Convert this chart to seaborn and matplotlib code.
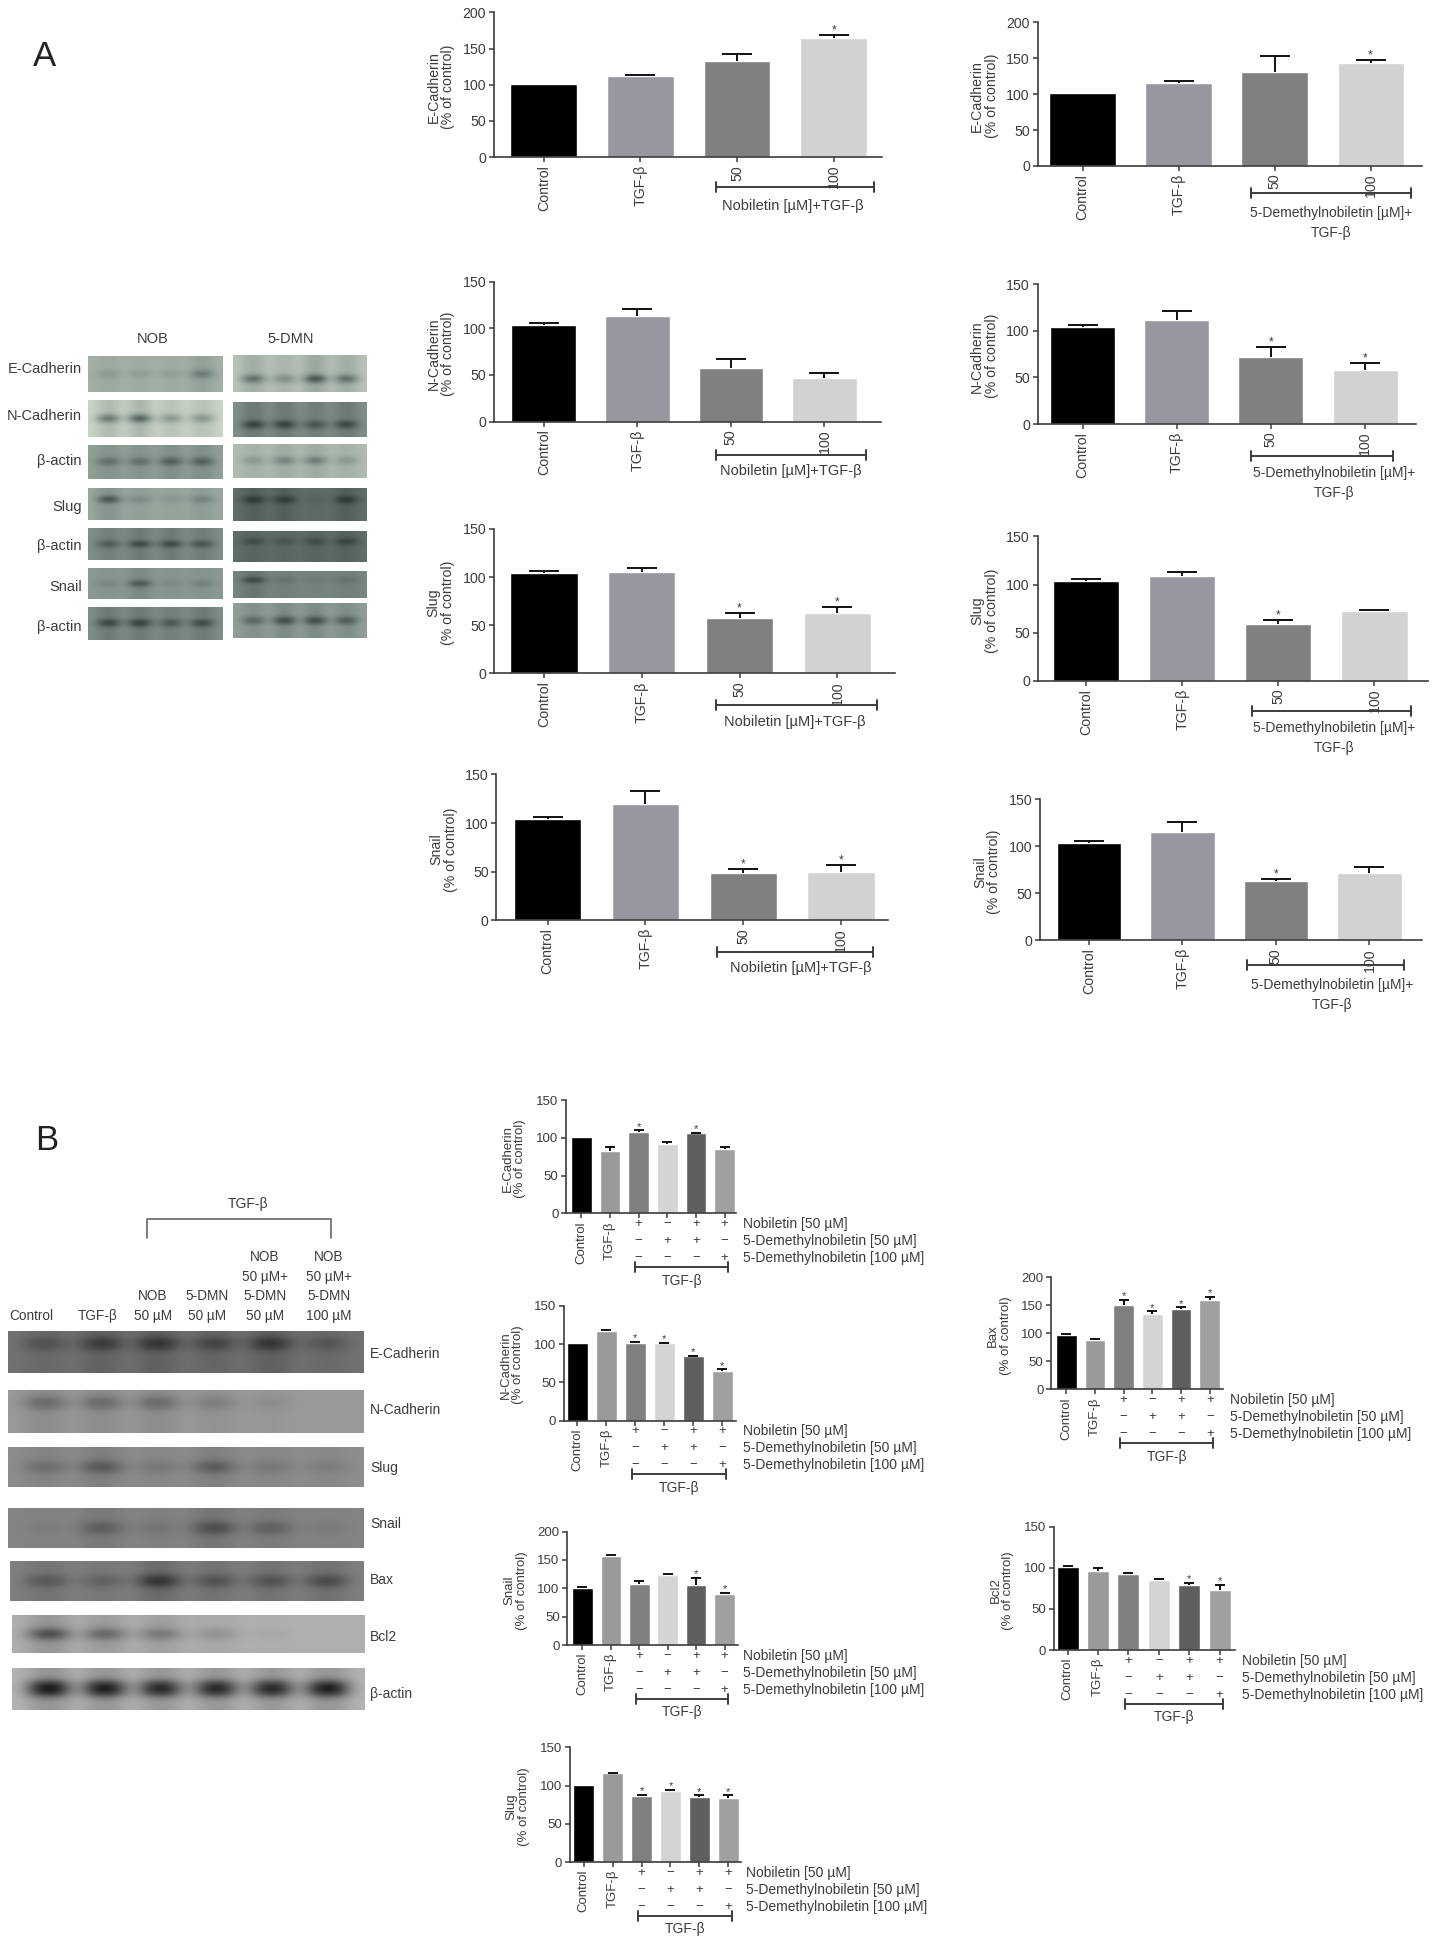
import numpy as np
import pandas as pd
import matplotlib
matplotlib.use("Agg")
import matplotlib.pyplot as plt
from matplotlib.colors import LinearSegmentedColormap
import seaborn as sns

# panel A values
a_labels = ["Control", "TGF-β", "50", "100"]
a_ecad_nob = [101, 112, 133, 165]
a_ecad_nob_err = [0, 1, 9, 4]
a_ecad_dmn = [101, 116, 131, 144]
a_ecad_dmn_err = [0, 3, 22, 4]
a_ncad_nob = [104, 113, 58, 47]
a_ncad_nob_err = [2, 8, 9, 5]
a_ncad_dmn = [104, 112, 72, 58]
a_ncad_dmn_err = [2, 9, 11, 8]
a_slug_nob = [104, 105, 58, 63]
a_slug_nob_err = [2, 4, 5, 6]
a_slug_dmn = [104, 109, 59, 73]
a_slug_dmn_err = [2, 4, 4, 1]
a_snail_nob = [104, 120, 49, 50]
a_snail_nob_err = [2, 13, 4, 7]
a_snail_dmn = [104, 115, 63, 72]
a_snail_dmn_err = [2, 11, 2, 6]
a_colors = ["#000000", "#97979f", "#808080", "#d2d2d2"]

# panel B values
b_labels = ["Control", "TGF-β", "", "", "", ""]
b_ecad = [101, 83, 108, 92, 106, 85]
b_ecad_err = [0, 5, 2, 3, 1, 3]
b_ncad = [101, 117, 102, 101, 84, 65]
b_ncad_err = [0, 1, 1, 1, 1, 2]
b_snail = [101, 156, 108, 123, 105, 90]
b_snail_err = [1, 3, 4, 3, 13, 2]
b_slug = [101, 116, 86, 93, 85, 84]
b_slug_err = [0, 1, 2, 1, 2, 3]
b_bax = [97, 88, 151, 134, 144, 159]
b_bax_err = [2, 1, 8, 5, 2, 6]
b_bcl2 = [101, 96, 92, 85, 79, 73]
b_bcl2_err = [1, 4, 1, 1, 3, 6]
b_colors = ["#000000", "#9a9a9a", "#808080", "#d4d4d4", "#5f5f5f", "#a0a0a0"]
b_rows = ["Nobiletin [50 µM]", "5-Demethylnobiletin [50 µM]", "5-Demethylnobiletin [100 µM]"]
b_signs = [["+", "−", "+", "+"], ["−", "+", "+", "−"], ["−", "−", "−", "+"]]

# blots: background lightness and band darkness per lane
blot_names_a = ["E-Cadherin", "N-Cadherin", "β-actin", "Slug", "β-actin", "Snail", "β-actin"]
nob_bg = [0.66, 0.84, 0.58, 0.62, 0.50, 0.55, 0.50]
nob_bands = [[.15, .12, .12, .35], [.6, .72, .4, .42], [.3, .3, .4, .4], [.5, .2, .12, .25],
             [.3, .4, .4, .35], [.12, .38, .1, .15], [.42, .45, .32, .4]]
dmn_bg = [0.76, 0.50, 0.72, 0.36, 0.36, 0.46, 0.58]
dmn_bands = [[.55, .35, .7, .55], [.45, .45, .35, .42], [.25, .38, .42, .25], [.3, .3, .06, .3],
             [.2, .15, .2, .25], [.36, .12, .06, .12], [.35, .5, .5, .42]]
blot_names_b = ["E-Cadherin", "N-Cadherin", "Slug", "Snail", "Bax", "Bcl2", "β-actin"]
b_bg = [0.44, 0.62, 0.56, 0.52, 0.50, 0.72, 0.74]
b_bands = [[.2, .34, .38, .28, .38, .18], [.3, .3, .3, .18, .08, 0], [.2, .32, .14, .3, .14, .1],
           [.05, .24, .1, .34, .22, .06], [.24, .18, .46, .28, .28, .32], [.6, .45, .35, .18, .04, 0],
           [.72, .7, .65, .65, .65, .7]]

W, H = 1433, 1955
S = 1433 / 1149
INK = "#3c3c3c"

sns.set_theme(style="ticks")
plt.rcParams["font.family"] = ["Liberation Sans", "DejaVu Sans"]

fig = plt.figure(figsize=(W / 100, H / 100), dpi=100)
page = fig.add_axes([0, 0, 1, 1], zorder=5)
page.set_xlim(0, W)
page.set_ylim(H, 0)
page.axis("off")
page.patch.set_alpha(0)


def px_axes(x0, y0, x1, y1):
    return fig.add_axes([x0 / W, 1 - y1 / H, (x1 - x0) / W, (y1 - y0) / H])


def bar_panel(labels, vals, errs, colors, stars, name, box, c0, step, ymax, yticks, fs, barw, cap, lab_off):
    # box and c0, step are in the coordinates of the shrunk picture
    left, top, right, bot = [v * S for v in box]
    ax = px_axes(left, top, right, bot)
    d = pd.DataFrame({"group": [str(i) for i in range(len(vals))], "value": vals})
    sns.barplot(data=d, x="group", y="value", hue="group", palette=colors, legend=False,
                width=barw, saturation=1, errorbar=None, ax=ax)
    for i, e in enumerate(errs):
        if e > 0:
            _, caps, _ = ax.errorbar([i], [vals[i]], yerr=[[0], [e]], fmt="none", ecolor="#111111",
                                     elinewidth=1.4, capsize=cap, capthick=1.4, zorder=3)
            caps[0].set_visible(False)
    for i in stars:
        ax.annotate("*", (i, vals[i] + errs[i]), xytext=(0, -1), textcoords="offset points",
                    ha="center", va="bottom", fontsize=fs - 1.5, color=INK)
    ax.set_xlim((left / S - c0) / step, (right / S - c0) / step)
    ax.set_ylim(0, ymax)
    ax.set_yticks(yticks)
    ax.set_xticks(range(len(vals)))
    ax.set_xticklabels(labels, rotation=90, ha="center", va="top")
    ax.tick_params(axis="both", labelsize=fs, colors=INK, length=3.6, width=1.1, pad=2)
    ax.set_xlabel("")
    ax.set_ylabel("")
    for k in ["top", "right"]:
        ax.spines[k].set_visible(False)
    for k in ["left", "bottom"]:
        ax.spines[k].set_color(INK)
        ax.spines[k].set_linewidth(1.2)
    page.text(left - lab_off, (top + bot) / 2 + 2, name + "\n(% of control)", rotation=90, ha="center",
              va="center", fontsize=fs, color=INK, linespacing=1.05)
    return ax


def bracket(x0, x1, y):
    page.plot([x0 * S, x1 * S], [y * S, y * S], color=INK, lw=1.4)
    page.plot([x0 * S, x0 * S], [(y - 4) * S, (y + 4) * S], color=INK, lw=1.4)
    page.plot([x1 * S, x1 * S], [(y - 4) * S, (y + 4) * S], color=INK, lw=1.4)


def note(x, y, s, fs=10):
    page.text(x * S, y * S, s, ha="center", va="center", fontsize=fs, color=INK)


def blot(box, bg, bands, cmap, rows, band_row, thick=False):
    ax = px_axes(*box)
    n = len(bands)
    m = np.full((rows, 3 * n + 1), bg, dtype=float)
    dark = np.array(bands)
    # faint smear along each lane, then the band itself
    m[:, 1::3][:, :n] -= 0.2 * dark
    m[:, 2::3][:, :n] -= 0.2 * dark
    m[band_row, 1::3] = bg - dark
    m[band_row, 2::3] = bg - dark
    if thick:
        m[band_row + 1, 1::3] = bg - dark
        m[band_row + 1, 2::3] = bg - dark
    ax.imshow(m, aspect="auto", cmap=cmap, vmin=0, vmax=1, interpolation="bicubic")
    ax.axis("off")


def a_panel(vals, errs, stars, name, box, c0, step, ymax, yticks, br, txt, two_lines):
    bar_panel(a_labels, vals, errs, a_colors, stars, name, box, c0, step, ymax, yticks, 10.2, 0.69, 11, 53)
    bracket(br[0], br[1], br[2])
    if two_lines:
        note(txt[0], txt[1], "5-Demethylnobiletin [µM]+")
        note(txt[0], txt[1] + 16, "TGF-β")
    else:
        note(txt[0], txt[1], "Nobiletin [µM]+TGF-β", 10.5)


def b_panel(vals, errs, stars, name, box, c0, step, ymax, yticks, label_x):
    ax = bar_panel(b_labels, vals, errs, b_colors, stars, name, box, c0, step, ymax, yticks, 9.5, 0.72, 3.6, 52)
    bot = box[3]
    for r, row in enumerate(b_signs):
        y = bot + 8.6 + r * 13.6
        for j, s in enumerate(row):
            ax.annotate(s, (j + 2, 0), xytext=(0, -(y - bot) * S * 0.72), textcoords="offset points",
                        ha="center", va="center", fontsize=9.5, color=INK, annotation_clip=False)
        page.text(label_x * S, y * S, b_rows[r], ha="left", va="center", fontsize=10, color=INK)
    bracket(c0 + 2 * step - 3, c0 + 5 * step + 3, bot + 43)
    note(c0 + 3.5 * step, bot + 54, "TGF-β", 10)


# panel A bar charts
a_panel(a_ecad_nob, a_ecad_nob_err, [3], "E-Cadherin", (396, 10, 707, 126), 436, 77.5, 200,
        [0, 50, 100, 150, 200], (574, 701, 150), (636, 165), False)
a_panel(a_ecad_dmn, a_ecad_dmn_err, [3], "E-Cadherin", (832, 18, 1140, 133), 868, 77, 200,
        [0, 50, 100, 150, 200], (1003, 1131, 155), (1067, 171), True)
a_panel(a_ncad_nob, a_ncad_nob_err, [], "N-Cadherin", (396, 226, 706, 338), 436, 75, 150,
        [0, 50, 100, 150], (574, 694, 365), (634, 378), False)
a_panel(a_ncad_dmn, a_ncad_dmn_err, [2, 3], "N-Cadherin", (832, 228, 1135, 340), 868, 75.5, 150,
        [0, 50, 100, 150], (1003, 1117, 366), (1070, 379), True)
a_panel(a_slug_nob, a_slug_nob_err, [2, 3], "Slug", (396, 424, 718, 540), 436, 78.5, 150,
        [0, 50, 100, 150], (574, 703, 565), (637, 579), False)
a_panel(a_slug_dmn, a_slug_dmn_err, [2], "Slug", (832, 430, 1145, 546), 871, 77, 150,
        [0, 50, 100, 150], (1004, 1131, 570), (1070, 584), True)
a_panel(a_snail_nob, a_snail_nob_err, [2, 3], "Snail", (398, 621, 712, 738), 439, 78.5, 150,
        [0, 50, 100, 150], (575, 700, 763), (642, 776), False)
a_panel(a_snail_dmn, a_snail_dmn_err, [2], "Snail", (834, 641, 1140, 754), 873, 75, 150,
        [0, 50, 100, 150], (1000, 1126, 774), (1068, 790), True)

# panel B bar charts
b_panel(b_ecad, b_ecad_err, [2, 4], "E-Cadherin", (454, 882, 590, 973), 466, 23, 150, [0, 50, 100, 150], 596)
b_panel(b_ncad, b_ncad_err, [2, 3, 4, 5], "N-Cadherin", (452, 1047, 590, 1139), 463, 23.2, 150, [0, 50, 100, 150], 596)
b_panel(b_snail, b_snail_err, [4, 5], "Snail", (455, 1228, 592, 1319), 467, 22.8, 200, [0, 50, 100, 150, 200], 596)
b_panel(b_slug, b_slug_err, [2, 3, 4, 5], "Slug", (457, 1401, 594, 1493), 468, 23.2, 150, [0, 50, 100, 150], 598)
b_panel(b_bax, b_bax_err, [2, 3, 4, 5], "Bax", (843, 1024, 981, 1114), 855, 23, 200, [0, 50, 100, 150, 200], 986)
b_panel(b_bcl2, b_bcl2_err, [4, 5], "Bcl2", (845, 1224, 990, 1323), 856, 24.4, 150, [0, 50, 100, 150], 996)

# blots panel A
green = LinearSegmentedColormap.from_list("green_blot", ["#0f1815", "#7f9088", "#eef3e6"])
gray = LinearSegmentedColormap.from_list("gray_blot", ["#0c0c0c", "#808080", "#ececec"])
nob_y = [(138, 245), (270, 380), (405, 508), (535, 630), (655, 750), (775, 868), (890, 990)]
dmn_y = [(135, 245), (275, 380), (402, 505), (535, 632), (662, 757), (782, 865), (880, 985)]
nob_row = [3, 3, 3, 2, 3, 3, 3]
dmn_row = [4, 4, 3, 2, 2, 2, 3]
label_y = [178, 318, 452, 590, 708, 832, 950]
for i, name in enumerate(blot_names_a):
    blot((88, 310 + nob_y[i][0] / 3, 223, 310 + nob_y[i][1] / 3), nob_bg[i], nob_bands[i], green, 7, nob_row[i])
    blot((233, 310 + dmn_y[i][0] / 3, 367, 310 + dmn_y[i][1] / 3), dmn_bg[i], dmn_bands[i], green, 7, dmn_row[i])
    page.text(82, 310 + label_y[i] / 3, name, ha="right", va="center", fontsize=10.5, color=INK)
page.text(153, 339, "NOB", ha="center", va="center", fontsize=10.5, color=INK)
page.text(291, 339, "5-DMN", ha="center", va="center", fontsize=10.5, color=INK)

# blots panel B
b_y = [(1331, 1373), (1390, 1433), (1447, 1487), (1508, 1548), (1561, 1601), (1615, 1653), (1668, 1710)]
b_x = [(8, 363), (8, 363), (8, 363), (8, 363), (10, 364), (12, 365), (12, 365)]
b_n = [5, 5, 5, 5, 5, 5, 6]
b_r = [1, 1, 2, 2, 2, 2, 2]
b_label_y = [1354, 1410, 1468, 1524, 1580, 1637, 1694]
for i, name in enumerate(blot_names_b):
    blot((b_x[i][0], b_y[i][0], b_x[i][1], b_y[i][1]), b_bg[i], b_bands[i], gray, b_n[i], b_r[i], name == "β-actin")
    page.text(370, b_label_y[i], name, ha="left", va="center", fontsize=10, color=INK)

for x, lines in [(31, ["Control"]), (98, ["TGF-β"]), (153, ["NOB", "50 µM"]), (207, ["5-DMN", "50 µM"]),
                 (265, ["NOB", "50 µM+", "5-DMN", "50 µM"]), (329, ["NOB", "50 µM+", "5-DMN", "100 µM"])]:
    for k, s in enumerate(reversed(lines)):
        page.text(x, 1316 - k * 19.7, s, ha="center", va="center", fontsize=9.8, color=INK)
page.text(248, 1204, "TGF-β", ha="center", va="center", fontsize=10, color=INK)
page.plot([147, 147, 331, 331], [1238, 1219, 1219, 1238], color="#666666", lw=1.2)

page.text(45, 56, "A", ha="center", va="center", fontsize=25, color="#222222")
page.text(47, 1141, "B", ha="center", va="center", fontsize=25, color="#222222")

fig.savefig("out.png", dpi=100)
